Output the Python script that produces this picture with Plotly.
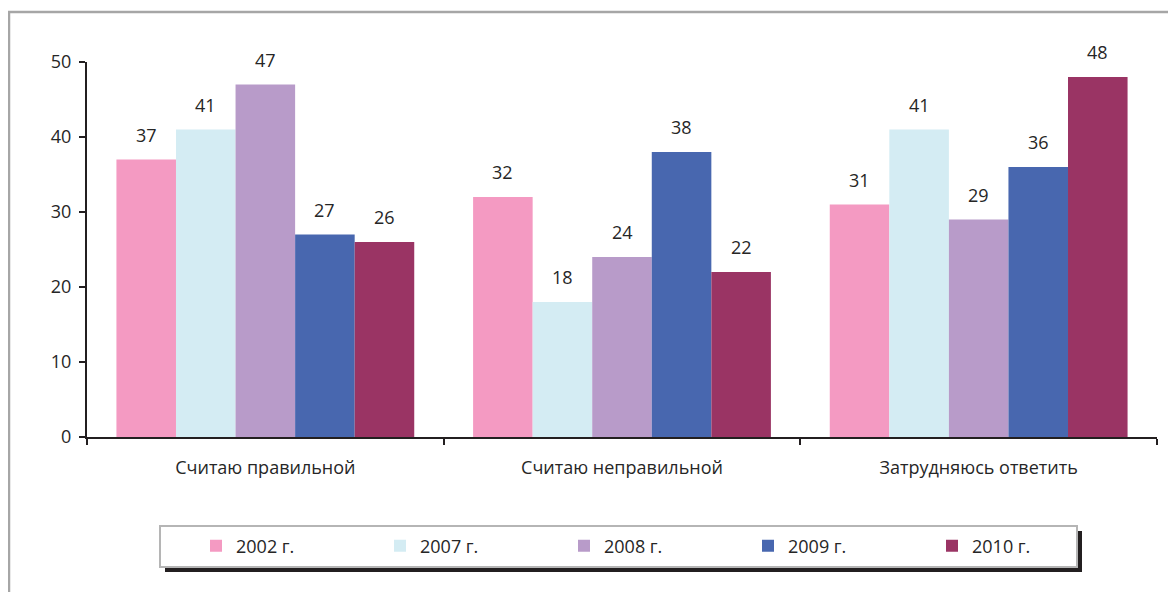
import plotly.graph_objects as go

categories = ["Считаю правильной", "Считаю неправильной", "Затрудняюсь ответить"]
series_names = ["2002 г.", "2007 г.", "2008 г.", "2009 г.", "2010 г."]
values_2002 = [37, 32, 31]
values_2007 = [41, 18, 41]
values_2008 = [47, 24, 29]
values_2009 = [27, 38, 36]
values_2010 = [26, 22, 48]
series_values = [values_2002, values_2007, values_2008, values_2009, values_2010]
colors = ["#F49AC2", "#D4ECF3", "#B89BC9", "#4867AF", "#9A3464"]

OFF = 8  # page body margin
W, H = 1176 - OFF, 592 - OFF
L, T = 87 - OFF, 62 - OFF
R = W - (1157 - OFF)
B = H - (437 - OFF)
plot_w = W - L - R
plot_h = H - T - B
bargap = 0.165
FONT = "Open Sans"
TXT = "#262626"
FS = 18

fig = go.Figure()
for name, vals, col in zip(series_names, series_values, colors):
    fig.add_trace(go.Bar(x=categories, y=vals, name=name, marker=dict(color=col, line=dict(width=0))))

# value labels above bars
n = len(series_names)
cat_px = plot_w / len(categories)
bar_px = cat_px * (1 - bargap) / n
annotations = []
for i, vals in enumerate(series_values):
    off = (i - (n - 1) / 2) * bar_px
    for c, v in zip(categories, vals):
        annotations.append(dict(x=c, y=v, xref="x", yref="y", text=str(v), showarrow=False,
                                xshift=off, yshift=25, yanchor="middle",
                                font=dict(family=FONT, size=FS, color=TXT)))

def px_x(p):
    return (p - OFF - L) / plot_w

def px_y(p):
    return (H - B - (p - OFF)) / plot_h

shapes = [
    # outer frame
    dict(type="rect", xref="paper", yref="paper", x0=px_x(9), x1=px_x(1190), y0=px_y(12), y1=px_y(610),
         line=dict(color="#A6A6A6", width=2.5), layer="below"),
    # legend shadow
    dict(type="rect", xref="paper", yref="paper", x0=px_x(165), x1=px_x(1082), y0=px_y(531), y1=px_y(572),
         line=dict(width=0), fillcolor="#231F20", layer="below"),
    # legend box
    dict(type="rect", xref="paper", yref="paper", x0=px_x(160), x1=px_x(1077), y0=px_y(526), y1=px_y(567),
         line=dict(color="#B5B5B5", width=2), fillcolor="white", layer="below"),
]

fig.update_layout(
    width=W, height=H,
    margin=dict(l=L, r=R, t=T, b=B),
    paper_bgcolor="white", plot_bgcolor="white",
    barmode="group", bargap=bargap, bargroupgap=0,
    font=dict(family=FONT, size=FS, color=TXT),
    showlegend=True,
    legend=dict(orientation="h", x=px_x(196), y=px_y(546), xanchor="left", yanchor="middle",
                entrywidth=139, entrywidthmode="pixels", bgcolor="rgba(0,0,0,0)",
                font=dict(family=FONT, size=FS, color=TXT), traceorder="normal"),
    annotations=annotations,
    shapes=shapes,
)
fig.update_xaxes(showline=True, linecolor="#231F20", linewidth=2, ticks="outside", tickson="boundaries",
                 ticklen=6, tickwidth=2, tickcolor="#231F20", showgrid=False, zeroline=False,
                 ticklabelstandoff=13,
                 tickfont=dict(family=FONT, size=FS, color=TXT))
fig.update_yaxes(range=[0, 50], dtick=10, showline=True, linecolor="#231F20", linewidth=2, ticks="outside",
                 ticklen=6, tickwidth=2, tickcolor="#231F20", showgrid=False, zeroline=False,
                 ticklabelstandoff=4,
                 tickfont=dict(family=FONT, size=FS, color=TXT))

fig.write_html("out.html")
